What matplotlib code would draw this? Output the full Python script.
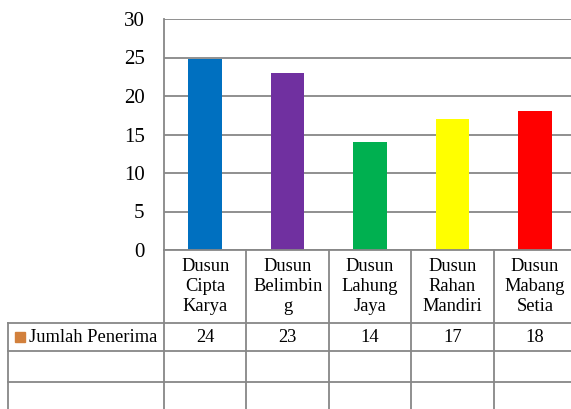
import matplotlib
matplotlib.use("Agg")
import matplotlib.pyplot as plt
from matplotlib.patches import Rectangle

categories = ["Dusun\nCipta\nKarya", "Dusun\nBelimbin\ng", "Dusun\nLahung\nJaya",
              "Dusun\nRahan\nMandiri", "Dusun\nMabang\nSetia"]
bar_values = [24.8, 23, 14, 17, 18]
table_labels = ["24", "23", "14", "17", "18"]
series_name = "Jumlah Penerima"
bar_colors = ["#0070C0", "#7030A0", "#00B050", "#FFFF00", "#FF0000"]
legend_color = "#D2803C"
yticks = [0, 5, 10, 15, 20, 25, 30]

plt.rcParams['font.family'] = ['Liberation Serif', 'DejaVu Serif']
W, H = 571, 409
fig = plt.figure(figsize=(W / 100, H / 100), dpi=100)
grid = "#878787"
lw = 1.3

# main axes: left 164px, right 576px (beyond figure), top 19px, bottom 250px
ax = fig.add_axes([164 / W, (H - 250) / H, (576 - 164) / W, (250 - 19) / H])
x = list(range(len(categories)))
ax.bar(x, bar_values, width=0.41, color=bar_colors, zorder=3)
ax.set_xlim(-0.5, len(categories) - 0.5)
ax.set_ylim(0, 30)
ax.set_yticks(yticks)
ax.set_yticklabels([str(t) for t in yticks], fontsize=15)
ax.tick_params(axis='y', length=0, pad=14)
ax.set_xticks([])
for t in yticks:
    ax.axhline(t, color=grid, lw=lw, zorder=1)
for s in ['top', 'right', 'bottom']:
    ax.spines[s].set_visible(False)
ax.spines['left'].set_color(grid)
ax.spines['left'].set_linewidth(lw)

# table axes: full width, from y=250px to bottom, coordinates in category units (x) / pixels (y)
px_per_unit = (576 - 164) / len(categories)
tx0 = -0.5 - 164 / px_per_unit
tx1 = -0.5 + (W - 164) / px_per_unit
tab = fig.add_axes([0, 0, 1, (H - 250) / H])
tab.set_xlim(tx0, tx1)
tab.set_ylim(H - 250, 0)
tab.axis('off')

left_x = -0.5 - (164 - 8) / px_per_unit
row_lines = [72.5, 101, 131.5]
bottom = H - 250
# vertical lines at category boundaries
for i in range(len(categories) + 1):
    tab.plot([i - 0.5, i - 0.5], [0, bottom], color=grid, lw=lw, clip_on=False)
tab.plot([left_x, left_x], [row_lines[0], bottom], color=grid, lw=lw, clip_on=False)
tab.plot([-0.5, tx1 + 1], [0, 0], color=grid, lw=lw, clip_on=False)
for r in row_lines:
    tab.plot([left_x, tx1 + 1], [r, r], color=grid, lw=lw, clip_on=False)

for i, c in enumerate(categories):
    tab.text(i, 36.5, c, ha='center', va='center', multialignment='center',
             fontsize=13.3, linespacing=1.2)
    tab.text(i, 87, table_labels[i], ha='center', va='center', fontsize=13.3)

sq = 10 / px_per_unit
tab.add_patch(Rectangle((-0.5 - (164 - 15) / px_per_unit, 82), sq, 10,
                        color=legend_color, clip_on=False))
tab.text(-0.5 - (164 - 29) / px_per_unit, 87, series_name, ha='left', va='center',
         fontsize=13.3)

fig.savefig("out.png", dpi=100)
